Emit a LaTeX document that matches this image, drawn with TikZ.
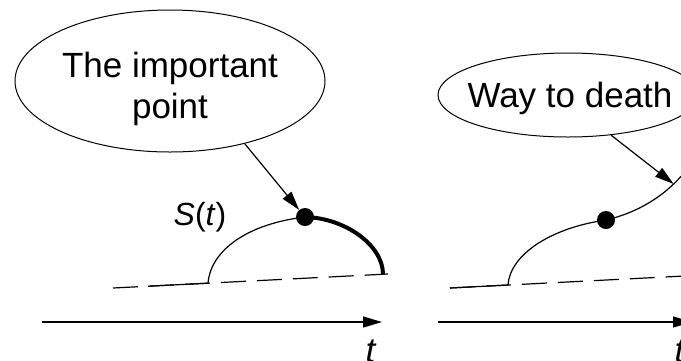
\documentclass[tikz,border=0pt]{standalone}
\usepackage{fontspec}
\setmainfont{Liberation Sans}
\usetikzlibrary{shapes.geometric,arrows.meta}
\begin{document}
\begin{tikzpicture}[x=1pt,y=-1pt,
  ell/.style={draw,ellipse,line width=1pt,inner sep=0pt},
  lbl/.style={font=\fontsize{35}{41}\selectfont,inner sep=0pt,anchor=base},
  slbl/.style={font=\fontsize{32}{38}\selectfont,inner sep=0pt,anchor=base},
  dotnode/.style={circle,fill,minimum size=18pt,inner sep=0pt},
  curveline/.style={line width=1.2pt},
  thickline/.style={line width=4pt},
  dashline/.style={line width=1.2pt,dash pattern=on 25pt off 11pt},
  arr/.style={line width=1.2pt,-{Triangle[length=19pt,width=11pt]}}
]
\useasboundingbox (0,0) rectangle (681,360);
\clip (0,0) rectangle (681,360);
% left panel
\node[ell,minimum width=310pt,minimum height=142pt] (e1) at (170,81) {};
\node[lbl] (t1a) at (170,77) {The important};
\node[lbl] (t1b) at (170,118) {point};
\node[dotnode] (d1) at (305,217) {};
\coordinate (a1) at (113,288);
\coordinate (b1) at (388,274);
\coordinate (c1) at (148,286.2);
\coordinate (s1) at (208,283.2);
\coordinate (f1) at (383,274.3);
\draw[dashline] (a1) -- (b1);
\draw[curveline] (c1) -- (s1);
\draw[curveline] (s1) .. controls (210,255) and (240,225) .. (d1.center);
\draw[thickline] (d1.center) .. controls (345,218) and (383,245) .. (f1);
\node[slbl] (st) at (200,225) {\textit{S}(\textit{t})};
\draw[arr] (e1.-40) -- (d1);
\coordinate (x1s) at (42,322);
\coordinate (x1e) at (382,322);
\draw[arr] (x1s) -- (x1e);
\node[lbl] (tl1) at (371,362) {\textit{t}};
% right panel
\node[ell,minimum width=260pt,minimum height=84pt] (e2) at (568,95) {};
\node[lbl] (t2) at (570,107) {Way to death};
\node[dotnode] (d2) at (606,220) {};
\coordinate (a2) at (450,288);
\coordinate (b2) at (700,275.2);
\coordinate (s2) at (508,285);
\draw[dashline] (a2) -- (b2);
\draw[curveline] (a2) -- (s2);
\draw[curveline] (s2) .. controls (510,255) and (550,228) .. (d2.center);
\draw[curveline] (d2.center) .. controls (640,212) and (668,194) .. (688,168) coordinate[pos=0.78] (p2);
\draw[arr] (e2.-43) -- (p2);
\coordinate (x2s) at (438,322);
\coordinate (x2e) at (692,322);
\draw[arr] (x2s) -- (x2e);
\node[lbl] (tl2) at (680,362) {\textit{t}};
\end{tikzpicture}
\end{document}
